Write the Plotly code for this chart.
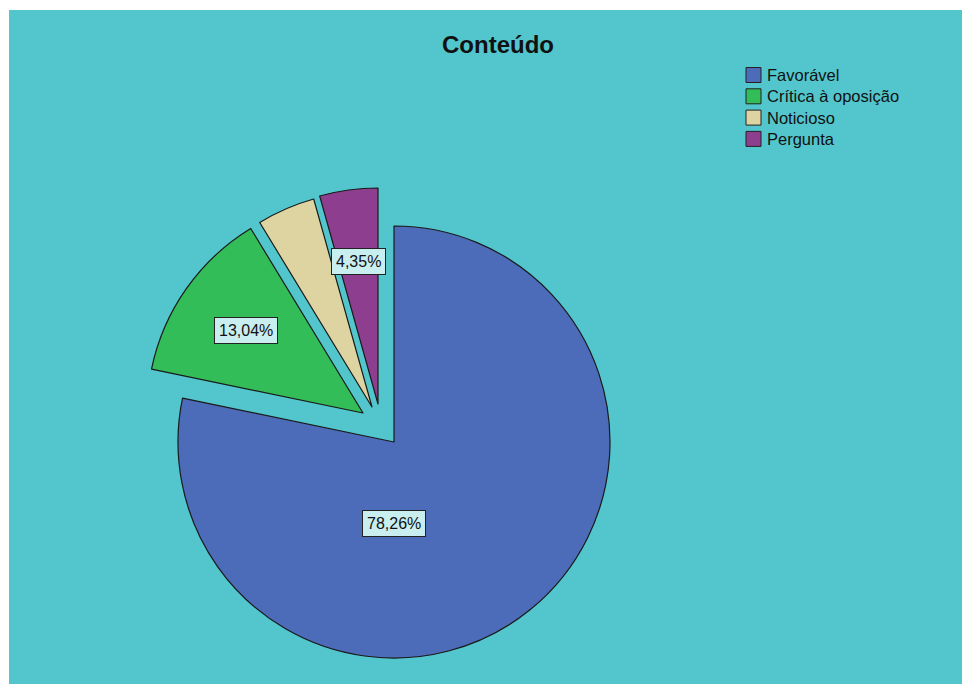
import math
import plotly.graph_objects as go

# ---- data ----
categories = ["Favorável", "Crítica à oposição", "Noticioso", "Pergunta"]
percentages = [78.26, 13.04, 4.35, 4.35]
label_texts = ["78,26%", "13,04%", None, "4,35%"]
title_text = "Conteúdo"

# ---- styles ----
colors = ["#4C6BB8", "#33BD58", "#DED4A2", "#8E3E8E"]
teal = "#52C6CC"
SCR_W, SCR_H = 970, 684
BODY = 8                      # default page body margin
W, H = SCR_W - BODY, SCR_H - BODY
ML, MT = 1, 2
PW, PH = W - ML, H - MT
R = 216
CX, CY = 394, 442             # screen pixel centre of pie
# explode offsets (pixels) per slice
offsets = [(0, 0), (-31, -29), (-22, -35), (-16, -38)]


def px_x(sx):
    return (sx - BODY - ML) / PW


def px_y(sy):
    return (BODY + H - sy) / PH


fig = go.Figure()
total = sum(percentages)
cum = 0.0
mids = []
for i, cat in enumerate(categories):
    frac = percentages[i] / total
    mids.append((cum + frac / 2) * 360.0)
    cum += frac
    cx, cy = CX + offsets[i][0], CY + offsets[i][1]
    fill = [c if j == i else "rgba(0,0,0,0)" for j, c in enumerate(colors)]
    lc = ["#1a1a1a" if j == i else "rgba(0,0,0,0)" for j in range(len(colors))]
    lw = [1.2 if j == i else 0 for j in range(len(colors))]
    fig.add_trace(go.Pie(
        labels=categories, values=percentages, sort=False,
        direction="clockwise", rotation=0,
        marker=dict(colors=fill, line=dict(color=lc, width=lw)),
        textinfo="none", showlegend=False,
        hoverinfo="label+percent",
        domain=dict(x=[px_x(cx - R), px_x(cx + R)],
                    y=[max(0.0, px_y(cy + R)), px_y(cy - R)]),
    ))

# ---- value labels ----
annotations = []
for i, txt in enumerate(label_texts):
    if txt is None:
        continue
    if i == 0:
        lx, ly = CX, CY + 0.375 * R
    else:
        a = math.radians(mids[i])
        cx, cy = CX + offsets[i][0], CY + offsets[i][1]
        lx = cx + 0.665 * R * math.sin(a)
        ly = cy - 0.665 * R * math.cos(a)
    annotations.append(dict(
        x=px_x(lx), y=px_y(ly), xref="paper", yref="paper",
        text=txt, showarrow=False, xanchor="center", yanchor="middle",
        font=dict(family="Liberation Sans, Arial", size=16, color="#111"),
        bgcolor="#C8EEF0", bordercolor="#222", borderwidth=1, borderpad=4,
    ))

# ---- legend (manual) ----
shapes = [dict(type="rect", xref="paper", yref="paper", x0=0, x1=1, y0=0, y1=1,
               fillcolor=teal, line=dict(width=0), layer="below")]
leg_y0 = 75
leg_step = 21.3
for i, cat in enumerate(categories):
    yc = leg_y0 + i * leg_step
    shapes.append(dict(type="rect", xref="paper", yref="paper",
                       x0=px_x(746), x1=px_x(761), y0=px_y(yc + 7.5), y1=px_y(yc - 7.5),
                       fillcolor=colors[i], line=dict(color="#222", width=1), layer="above"))
    annotations.append(dict(
        x=px_x(765), y=px_y(yc), xref="paper", yref="paper", text=cat,
        showarrow=False, xanchor="left", yanchor="middle",
        font=dict(family="Liberation Sans, Arial", size=16.5, color="#111"),
    ))

fig.update_layout(
    width=W, height=H,
    margin=dict(l=ML, t=MT, r=0, b=0, pad=0),
    paper_bgcolor="white", plot_bgcolor=teal,
    title=dict(text="<b>" + title_text + "</b>", x=(498 - BODY) / W, xref="container",
               xanchor="center", y=1 - (45 - BODY) / H, yref="container", yanchor="middle",
               font=dict(family="Liberation Sans, Arial", size=24, color="#111")),
    shapes=shapes, annotations=annotations, showlegend=False,
)

fig.write_html("out.html")
